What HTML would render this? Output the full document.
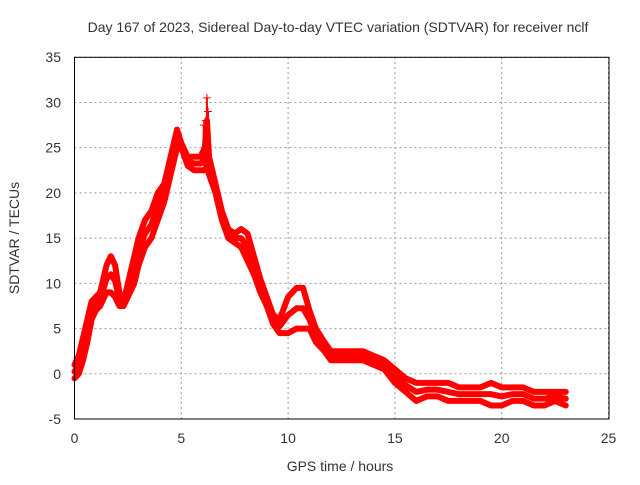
<!DOCTYPE html>
<html><head><meta charset="utf-8"><style>
body{margin:0;background:#fff}
text{font-family:"Liberation Sans",sans-serif;font-size:14px;fill:#333}
</style></head><body>
<svg id="chart" width="640" height="480" xmlns="http://www.w3.org/2000/svg">
<rect width="640" height="480" fill="#fff"/>
<text x="338" y="32" text-anchor="middle">Day 167 of 2023, Sidereal Day-to-day VTEC variation (SDTVAR) for receiver nclf</text>
<text x="340" y="471" text-anchor="middle">GPS time / hours</text>
<text transform="translate(19,238) rotate(-90)" text-anchor="middle">SDTVAR / TECUs</text>
<g id="grid"></g><g id="series"></g><g id="axes"></g>
</svg>
<script>
const xTicks=[0,5,10,15,20,25];
const yTicks=[-5,0,5,10,15,20,25,30,35];
const hours=[0,0.2,0.4,0.6,0.8,1.0,1.2,1.5,1.7,1.9,2.1,2.3,2.6,2.8,3.0,3.3,3.6,3.9,4.2,4.5,4.8,5.0,5.3,5.6,5.9,6.1,6.2,6.3,6.6,6.9,7.2,7.5,7.8,8.1,8.4,8.7,9.0,9.3,9.6,10.0,10.4,10.7,11.0,11.3,11.7,12.0,12.5,13.0,13.5,14.0,14.5,15.0,15.5,16.0,16.5,17.0,17.5,18.0,18.5,19.0,19.5,20.0,20.5,21.0,21.5,22.0,22.5,23.0];
const upper=[1,2,4,6,8,8.5,9,12,13,12,9,8,11,13,15,17,18,20,21,24,27,25.5,24,24,24,25,28,24,21,18,16,15.5,16,15.5,13,10.5,8.5,6.5,6,8.5,9.5,9.5,7,5,3.5,2.5,2.5,2.5,2.5,2,1.5,0.5,-0.5,-1,-1,-1,-1,-1.5,-1.5,-1.5,-1,-1.5,-1.5,-1.5,-2,-2,-2,-2];
const lower=[-0.5,0,1.5,3.5,6,7,7.5,9,9,8.5,7.5,7.5,9,10,12,14,15,17,19,22,25,25,23,22.5,22.5,22.5,23,22,20,17,15,14.5,14,12.5,11,9,7.5,5.5,4.5,4.5,5,5,5,3.5,2.5,1.5,1.5,1.5,1.5,1,0.5,-1,-2,-3,-2.5,-2.5,-3,-3,-3,-3,-3.5,-3.5,-3,-3,-3.5,-3.5,-3,-3.5];
const spikeHours=[6.05,6.15,6.2,6.25];
const spikeVals=[27.5,28,30.5,29];
const X=v=>74.5+v*21.36, Y=v=>373.8-v*9.045;
const NS="http://www.w3.org/2000/svg";
function mk(tag,attrs,parent){const e=document.createElementNS(NS,tag);for(const k in attrs)e.setAttribute(k,attrs[k]);document.getElementById(parent).appendChild(e);return e;}
xTicks.forEach(t=>{
 const l=mk('line',{x1:X(t),x2:X(t),y1:57,y2:419,stroke:'#999','stroke-dasharray':'2,3'},'grid');
 
 
 const tx=mk('text',{x:X(t),y:443,'text-anchor':'middle'},'axes');tx.textContent=t;
 
 
});
yTicks.forEach(t=>{
 const l=mk('line',{x1:74.5,x2:609,y1:Y(t),y2:Y(t),stroke:'#999','stroke-dasharray':'2,3'},'grid');
 
 
 const tx=mk('text',{x:61,y:Y(t)+5,'text-anchor':'end'},'axes');tx.textContent=t;
 
 
});
const frame=mk('rect',{x:74.5,y:57.3,width:534.5,height:361.7,fill:'none',stroke:'#000'},'axes');


function poly(vals,name){
 const p=mk('polyline',{points:hours.map((h,i)=>X(h)+','+Y(vals[i])).join(' '),fill:'none',stroke:'#f00','stroke-width':6,'stroke-linejoin':'round','stroke-linecap':'round'},'series');
 
 
}
poly(upper,'sdtvar-upper-trace');
poly(lower,'sdtvar-lower-trace');
const mid=upper.map((u,i)=>(u+lower[i])/2);
poly(mid,'sdtvar-middle-trace');
spikeHours.forEach((h,i)=>{
 const s=mk('line',{x1:X(h),x2:X(h),y1:Y(23),y2:Y(spikeVals[i]),stroke:'#f00','stroke-width':2},'series');
 
 
 const c=mk('path',{d:`M${X(h)-4},${Y(spikeVals[i])}h8M${X(h)},${Y(spikeVals[i])-4}v8`,stroke:'#f00','stroke-width':1},'series');
 
 
});
</script>
</body></html>
